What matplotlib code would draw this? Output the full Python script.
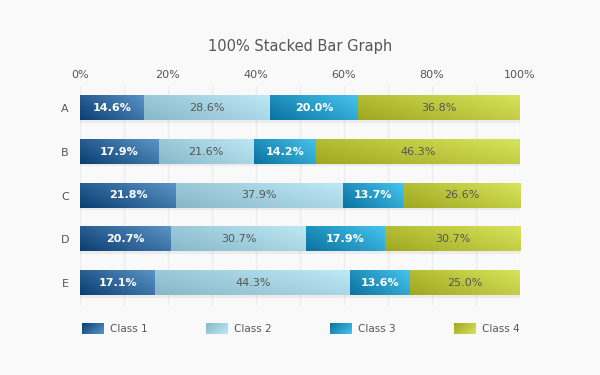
import numpy as np
import matplotlib
matplotlib.use("Agg")
import matplotlib.pyplot as plt
from matplotlib.colors import LinearSegmentedColormap

categories = ["A", "B", "C", "D", "E"]
series_names = ["Class 1", "Class 2", "Class 3", "Class 4"]
class1 = [14.6, 17.9, 21.8, 20.7, 17.1]
class2 = [28.6, 21.6, 37.9, 30.7, 44.3]
class3 = [20.0, 14.2, 13.7, 17.9, 13.6]
class4 = [36.8, 46.3, 26.6, 30.7, 25.0]
tick_values = [0, 20, 40, 60, 80, 100]
tick_labels = ["0%", "20%", "40%", "60%", "80%", "100%"]

series = [class1, class2, class3, class4]
grad_colors = [("#0b3f73", "#5a93c6"),
               ("#88b8c9", "#bde8f5"),
               ("#0a73a0", "#45c3ee"),
               ("#9ea820", "#d8e35c")]
text_styles = [dict(color="white", fontweight="bold"),
               dict(color="#555555", fontweight="normal"),
               dict(color="white", fontweight="bold"),
               dict(color="#555555", fontweight="normal")]
cmaps = [LinearSegmentedColormap.from_list(f"c{i}", c) for i, c in enumerate(grad_colors)]

bg = "#f9f9f9"
fig = plt.figure(figsize=(6, 3.75), dpi=100, facecolor=bg)
ax = fig.add_axes([80/600, 1-305/375, 440/600, 219/375])
ax.set_facecolor(bg)

n = len(categories)
ypos = np.arange(n)[::-1]
h = 0.55

def gradient_img(nx=64, ny=16):
    xf = np.linspace(0, 1, nx)[None, :]
    yf = np.linspace(0, 1, ny)[:, None]
    return 0.65*xf + 0.35*yf

img = gradient_img()

for xv in range(0, 101, 10):
    ax.axvline(xv, color="#ececec", lw=1, zorder=0)

lefts = np.zeros(n)
for si, vals in enumerate(series):
    vals = np.array(vals)
    for ci in range(n):
        x0 = lefts[ci]
        x1 = x0 + vals[ci]
        y = ypos[ci]
        ax.fill_between([x0, x1], y - h/2 - 0.06, y - h/2, color="#000000", alpha=0.05, lw=0, zorder=1)
        ax.imshow(img, cmap=cmaps[si], origin="lower", aspect="auto",
                  extent=(x0, x1, y - h/2, y + h/2), interpolation="bilinear", zorder=2)
        ax.text((x0 + x1)/2, y, f"{vals[ci]:.1f}%", ha="center", va="center",
                fontsize=8, zorder=3, **text_styles[si])
    lefts += vals

ax.set_xlim(0, 100)
ax.set_ylim(-0.5, n - 0.5)
ax.set_xticks(tick_values)
ax.set_xticklabels(tick_labels)
ax.set_yticks(ypos)
ax.set_yticklabels(categories)
ax.xaxis.tick_top()
ax.tick_params(axis="both", length=0, colors="#555555", labelsize=8)
ax.tick_params(axis="x", pad=4)
ax.tick_params(axis="y", pad=8)
for s in ax.spines.values():
    s.set_visible(False)

fig.text(0.5, 1 - 47/375, "100% Stacked Bar Graph", ha="center", va="center",
         fontsize=10.5, color="#555555")

# legend
lax = fig.add_axes([0, 0, 1, 1])
lax.axis("off")
lax.patch.set_alpha(0)
for si, name in enumerate(series_names):
    lx = 82 + si * 124
    lax.imshow(img, cmap=cmaps[si], origin="upper", aspect="auto",
               extent=(lx, lx + 22, 334, 323), interpolation="bilinear")
    lax.text(lx + 28, 329, name, ha="left", va="center", fontsize=7.5, color="#555555")
lax.set_xlim(0, 600)
lax.set_ylim(375, 0)

fig.savefig("out.png", dpi=100, facecolor=bg)
